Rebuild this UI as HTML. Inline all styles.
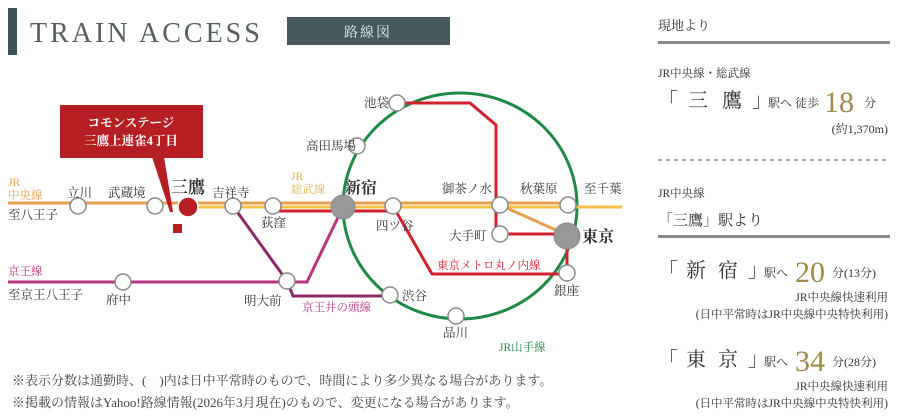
<!DOCTYPE html>
<html><head><meta charset="utf-8"><style>
html,body{margin:0;padding:0;background:#fff;}
svg{display:block;}
text{font-family:"Liberation Serif","Noto Serif CJK SC",serif;}
</style></head><body>
<svg width="900" height="417" viewBox="0 0 900 417" xmlns="http://www.w3.org/2000/svg">
<rect x="8" y="8" width="9" height="47" fill="#3f5459"/>
<text x="30" y="42" font-size="28" fill="#55605f" letter-spacing="3">TRAIN ACCESS</text>
<rect x="287" y="17" width="163" height="28" fill="#45595e"/>
<text x="368" y="37" font-size="14" fill="#e8ecec" text-anchor="middle" letter-spacing="2">路線図</text>

<ellipse cx="460" cy="206" rx="117" ry="113" fill="none" stroke="#1f8a45" stroke-width="3"/>
<polyline points="397,103 470,103 496,125 496,205 496,234 567,234 567,274 432,274 393,206" fill="none" stroke="#d3202f" stroke-width="3"/>
<line x1="273" y1="211" x2="396" y2="211" stroke="#d3202f" stroke-width="3"/>
<line x1="8" y1="203" x2="570" y2="203" stroke="#e8a050" stroke-width="3"/>
<line x1="188" y1="207" x2="622" y2="207" stroke="#f2c24a" stroke-width="3"/>
<line x1="500" y1="205" x2="567" y2="235" stroke="#e8a050" stroke-width="3"/>
<polyline points="233,206 287,281 293,296 390,296" fill="none" stroke="#8b2a6b" stroke-width="3"/>
<polyline points="8,282 307,282 343,207" fill="none" stroke="#b5337f" stroke-width="3"/>

<g fill="#fff" stroke="#888" stroke-width="1.5">
<circle cx="78" cy="206" r="8"/><circle cx="155" cy="206" r="8"/>
<circle cx="233" cy="206" r="8"/><circle cx="273" cy="206" r="8"/>
<circle cx="393" cy="206" r="8"/><circle cx="500" cy="205" r="8"/>
<circle cx="568" cy="205" r="8"/><circle cx="500" cy="234" r="8"/>
<circle cx="567" cy="273" r="8"/><circle cx="390" cy="295" r="8"/>
<circle cx="456" cy="316" r="8"/><circle cx="287" cy="281" r="8"/>
<circle cx="123" cy="282" r="8"/><circle cx="397" cy="103" r="8"/>
<circle cx="357" cy="146" r="8"/>
</g>
<circle cx="343" cy="207" r="12" fill="#999" stroke="#888"/>
<circle cx="567" cy="236" r="13" fill="#999" stroke="#888"/>
<circle cx="188" cy="207" r="10" fill="#b51f24" stroke="#fff" stroke-width="1.5"/>

<rect x="60" y="105" width="143" height="53" fill="#b51f24"/>
<polygon points="152,157 164,157 173,212 170,212" fill="#b51f24"/>
<rect x="173" y="224" width="9" height="9" fill="#b51f24"/>
<text x="131" y="127" font-size="12.5" fill="#fff" text-anchor="middle" font-weight="bold">コモンステージ</text>
<text x="131" y="145" font-size="12.5" fill="#fff" text-anchor="middle" font-weight="bold">三鷹上連雀4丁目</text>

<g font-size="12.5" fill="#333">
<text x="67" y="197">立川</text>
<text x="108" y="197">武蔵境</text>
<text x="171" y="193" font-size="17" font-weight="bold">三鷹</text>
<text x="212" y="197">吉祥寺</text>
<text x="261" y="227">荻窪</text>
<text x="345" y="193" font-size="16" font-weight="bold">新宿</text>
<text x="376" y="230">四ツ谷</text>
<text x="442" y="193">御茶ノ水</text>
<text x="520" y="193">秋葉原</text>
<text x="584" y="193">至千葉</text>
<text x="582" y="242" font-size="16" font-weight="bold">東京</text>
<text x="449" y="240">大手町</text>
<text x="554" y="295">銀座</text>
<text x="402" y="300">渋谷</text>
<text x="443" y="337">品川</text>
<text x="244" y="305">明大前</text>
<text x="106" y="304">府中</text>
<text x="364" y="107">池袋</text>
<text x="306" y="150">高田馬場</text>
<text x="8" y="219">至八王子</text>
<text x="8" y="299">至京王八王子</text>
</g>
<g font-size="11.5">
<text x="8" y="186" fill="#e8a050">JR</text>
<text x="8" y="199" fill="#e8a050">中央線</text>
<text x="291" y="180" fill="#e8b850">JR</text>
<text x="291" y="193" fill="#e8b850">総武線</text>
<text x="8" y="275" fill="#b5337f">京王線</text>
<text x="302" y="311" fill="#b5337f">京王井の頭線</text>
<text x="437" y="269" fill="#d3202f">東京メトロ丸ノ内線</text>
<text x="499" y="351" fill="#1f8a45">JR山手線</text>
</g>
<g font-size="13" fill="#444">
<text x="12" y="385">※表示分数は通勤時、(　)内は日中平常時のもので、時間により多少異なる場合があります。</text>
<text x="12" y="407">※掲載の情報はYahoo!路線情報(2026年3月現在)のもので、変更になる場合があります。</text>
</g>

<g fill="#333">
<text x="658" y="30" font-size="13">現地より</text>
<rect x="658" y="41" width="232" height="3" fill="#888"/>
<text x="658" y="77" font-size="11.5">JR中央線・総武線</text>
<g font-size="20"><text x="658" y="107">「</text><text x="688" y="107">三</text><text x="722" y="107">鷹</text><text x="752" y="107">」</text></g>
<text x="768" y="107" font-size="12">駅へ 徒歩</text>
<text x="824" y="112" font-size="30" fill="#a08a4a">18</text>
<text x="864" y="107" font-size="12">分</text>
<text x="888" y="133" font-size="12" text-anchor="end">(約1,370m)</text>
<line x1="658" y1="160" x2="890" y2="160" stroke="#999" stroke-width="1.5" stroke-dasharray="4,4"/>
<text x="658" y="197" font-size="11.5">JR中央線</text>
<text x="658" y="225" font-size="15">「三鷹」駅より</text>
<rect x="658" y="235" width="232" height="3" fill="#888"/>
<g font-size="20"><text x="658" y="277">「</text><text x="686" y="277">新</text><text x="718" y="277">宿</text><text x="748" y="277">」</text></g>
<text x="764" y="277" font-size="12">駅へ</text>
<text x="795" y="282" font-size="30" fill="#a08a4a">20</text>
<text x="832" y="277" font-size="12">分(13分)</text>
<text x="888" y="301" font-size="11.5" text-anchor="end">JR中央線快速利用</text>
<text x="888" y="318" font-size="11.5" text-anchor="end">(日中平常時はJR中央線中央特快利用)</text>
<g font-size="20"><text x="658" y="366">「</text><text x="686" y="366">東</text><text x="718" y="366">京</text><text x="748" y="366">」</text></g>
<text x="764" y="366" font-size="12">駅へ</text>
<text x="795" y="371" font-size="30" fill="#a08a4a">34</text>
<text x="832" y="366" font-size="12">分(28分)</text>
<text x="888" y="390" font-size="11.5" text-anchor="end">JR中央線快速利用</text>
<text x="888" y="407" font-size="11.5" text-anchor="end">(日中平常時はJR中央線中央特快利用)</text>
</g>
</svg>
</body></html>
